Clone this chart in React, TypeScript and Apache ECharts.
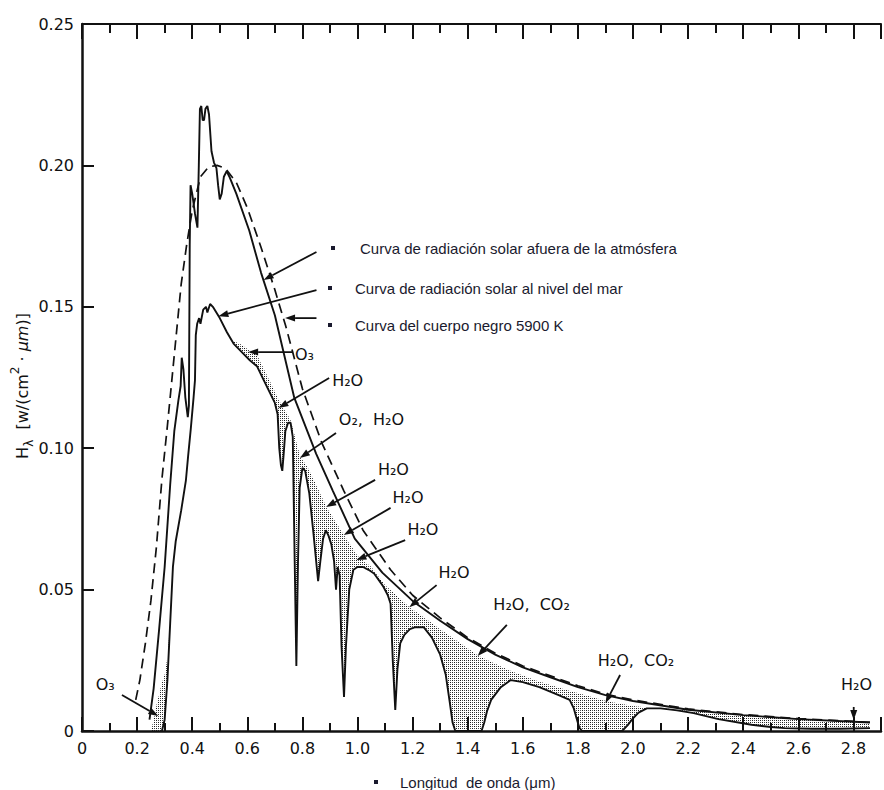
import React, { useEffect, useRef } from "react";
import * as echarts from "echarts";

// ---------- data (x in μm, y in w/(cm²·μm)) ----------
const blackbody5900: [number, number][] = [
  [0.195, 0.011], [0.21, 0.018], [0.23, 0.031], [0.25, 0.046], [0.27, 0.065], [0.29, 0.089],
  [0.31, 0.108], [0.33, 0.128], [0.36, 0.158], [0.38, 0.172], [0.40, 0.184], [0.43, 0.196],
  [0.46, 0.1995], [0.49, 0.2], [0.52, 0.199], [0.56, 0.194], [0.60, 0.185], [0.65, 0.171],
  [0.70, 0.156], [0.74, 0.143], [0.80, 0.121], [0.87, 0.102], [0.95, 0.085], [1.02, 0.071],
  [1.12, 0.057], [1.20, 0.048], [1.30, 0.040], [1.40, 0.033], [1.50, 0.0275], [1.60, 0.023],
  [1.70, 0.0195], [1.80, 0.016], [1.90, 0.013], [2.00, 0.011], [2.20, 0.0078], [2.40, 0.0058],
  [2.60, 0.0044], [2.86, 0.0031],
];

const outsideAtmosphere: [number, number][] = [
  [0.245, 0.004], [0.26, 0.015], [0.28, 0.036], [0.30, 0.058], [0.32, 0.087], [0.335, 0.106],
  [0.35, 0.117], [0.358, 0.122], [0.362, 0.132], [0.368, 0.128], [0.375, 0.118], [0.384, 0.111],
  [0.388, 0.115], [0.391, 0.172], [0.394, 0.193], [0.40, 0.19], [0.41, 0.183], [0.419, 0.178],
  [0.424, 0.2], [0.428, 0.22], [0.433, 0.221], [0.438, 0.216], [0.443, 0.216], [0.448, 0.22],
  [0.455, 0.221], [0.461, 0.218], [0.47, 0.205], [0.479, 0.201], [0.488, 0.199], [0.494, 0.193],
  [0.50, 0.188], [0.507, 0.19], [0.515, 0.196], [0.525, 0.198], [0.535, 0.196], [0.56, 0.19],
  [0.607, 0.177], [0.65, 0.162], [0.70, 0.147], [0.77, 0.118], [0.85, 0.098], [0.91, 0.085],
  [0.99, 0.068], [1.09, 0.056], [1.20, 0.046], [1.30, 0.039], [1.40, 0.0325], [1.50, 0.027],
  [1.60, 0.0225], [1.70, 0.019], [1.80, 0.0155], [1.90, 0.0127], [2.00, 0.0106], [2.20, 0.0075],
  [2.40, 0.0056], [2.60, 0.0042], [2.86, 0.003],
];

const seaLevel: [number, number][] = [
  [0.29, 0], [0.30, 0.004], [0.31, 0.018], [0.32, 0.038], [0.33, 0.058], [0.34, 0.067],
  [0.36, 0.078], [0.377, 0.0885], [0.385, 0.097], [0.395, 0.107], [0.405, 0.118], [0.41, 0.124],
  [0.413, 0.14], [0.418, 0.144], [0.425, 0.146], [0.43, 0.144], [0.44, 0.149], [0.45, 0.15],
  [0.455, 0.148], [0.465, 0.151], [0.475, 0.15], [0.50, 0.146], [0.526, 0.141], [0.55, 0.137],
  [0.58, 0.134], [0.61, 0.131], [0.635, 0.129], [0.66, 0.124], [0.68, 0.12], [0.70, 0.116],
  [0.71, 0.112], [0.716, 0.1], [0.722, 0.094], [0.727, 0.092], [0.732, 0.098], [0.738, 0.106],
  [0.748, 0.109], [0.757, 0.109], [0.765, 0.104], [0.772, 0.06], [0.778, 0.023], [0.784, 0.06],
  [0.79, 0.086], [0.80, 0.093], [0.81, 0.092], [0.825, 0.084], [0.84, 0.07], [0.85, 0.06],
  [0.857, 0.053], [0.865, 0.06], [0.875, 0.068], [0.885, 0.071], [0.895, 0.069], [0.905, 0.066],
  [0.915, 0.06], [0.922, 0.05], [0.928, 0.058], [0.935, 0.055], [0.942, 0.03], [0.951, 0.012],
  [0.958, 0.03], [0.97, 0.05], [0.985, 0.057], [1.00, 0.058], [1.02, 0.058], [1.04, 0.057],
  [1.06, 0.0557], [1.08, 0.053], [1.094, 0.051], [1.11, 0.048], [1.12, 0.045], [1.128, 0.025],
  [1.137, 0.0074], [1.145, 0.022], [1.155, 0.031], [1.17, 0.034], [1.19, 0.036], [1.21, 0.0367],
  [1.24, 0.0367], [1.27, 0.033], [1.30, 0.027], [1.32, 0.02], [1.335, 0.01], [1.345, 0.003],
  [1.355, 0], [1.45, 0], [1.46, 0.003], [1.47, 0.007], [1.485, 0.011], [1.52, 0.0155],
  [1.556, 0.018], [1.60, 0.0173], [1.66, 0.0155], [1.73, 0.0127], [1.77, 0.011], [1.785, 0.008],
  [1.795, 0.0045], [1.805, 0.0012], [1.815, 0], [1.96, 0], [1.98, 0.002], [2.00, 0.0045],
  [2.02, 0.0065], [2.05, 0.008], [2.10, 0.008], [2.16, 0.0073], [2.22, 0.0063], [2.31, 0.0042],
  [2.43, 0.0022], [2.50, 0.0014], [2.55, 0.001], [2.65, 0.0008], [2.75, 0.0008], [2.86, 0.001],
];

// upper edge of the stippled (absorbed) bands
const absorptionUV: [number, number][] = [
  [0.25, 0], [0.26, 0.004], [0.27, 0.009], [0.28, 0.013], [0.29, 0.017], [0.30, 0.02],
  [0.31, 0.026], [0.32, 0.038],
];
const absorptionIR: [number, number][] = [
  [0.55, 0.138], [0.58, 0.1365], [0.61, 0.1345], [0.635, 0.133], [0.66, 0.128], [0.68, 0.124],
  [0.70, 0.12], [0.714, 0.117], [0.757, 0.11], [0.792, 0.097], [0.80, 0.096], [0.82, 0.093],
  [0.85, 0.087], [0.888, 0.079], [0.952, 0.069], [1.0, 0.062], [1.05, 0.058], [1.10, 0.0515],
  [1.19, 0.0437], [1.25, 0.0395], [1.30, 0.036], [1.44, 0.0265], [1.55, 0.0215], [1.65, 0.0178],
  [1.75, 0.0148], [1.905, 0.0105], [2.0, 0.0088], [2.05, 0.0083], [2.10, 0.0081], [2.2, 0.0072],
  [2.4, 0.0054], [2.6, 0.0041], [2.86, 0.0029],
];

const legendTexts = [
  "Curva de radiación solar afuera de la atmósfera",
  "Curva de radiación solar al nivel del mar",
  "Curva del cuerpo negro 5900 K",
];
const xAxisTitle = "Longitud  de onda (μm)";

// annotation labels: text, text anchor, arrow from, arrow tip (data coords)
const notes: { t: string; at: [number, number]; from: [number, number]; to: [number, number] }[] = [
  { t: "O₃", at: [0.773, 0.133], from: [0.766, 0.134], to: [0.603, 0.134] },
  { t: "H₂O", at: [0.908, 0.1241], from: [0.897, 0.1248], to: [0.713, 0.1142] },
  { t: "O₂,  H₂O", at: [0.932, 0.11], from: [0.922, 0.1054], to: [0.791, 0.0965] },
  { t: "H₂O", at: [1.074, 0.0926], from: [1.064, 0.0888], to: [0.886, 0.0792] },
  { t: "H₂O", at: [1.127, 0.0824], from: [1.12, 0.0789], to: [0.95, 0.0693] },
  { t: "H₂O", at: [1.181, 0.0711], from: [1.173, 0.0675], to: [0.996, 0.0605] },
  { t: "H₂O", at: [1.294, 0.0559], from: [1.287, 0.0516], to: [1.188, 0.0438] },
  { t: "H₂O,  CO₂", at: [1.493, 0.0449], from: [1.542, 0.0375], to: [1.436, 0.0265] },
  { t: "H₂O,  CO₂", at: [1.872, 0.0251], from: [1.953, 0.0198], to: [1.9, 0.0099] },
  { t: "H₂O", at: [2.755, 0.0163], from: [2.801, 0.0085], to: [2.801, 0.0039] },
  { t: "O₃", at: [0.05, 0.0166], from: [0.145, 0.0127], to: [0.277, 0.0053] },
];
const legendArrows: { from: [number, number]; to: [number, number] }[] = [
  { from: [0.851, 0.1694], to: [0.659, 0.1595] },
  { from: [0.851, 0.1559], to: [0.495, 0.1467] },
  { from: [0.851, 0.146], to: [0.737, 0.146] },
];

const FONT = "DejaVu Sans";
const INK = "#111";

function makeStipple() {
  const c = document.createElement("canvas");
  c.width = 4;
  c.height = 4;
  const g = c.getContext("2d")!;
  g.fillStyle = "#1a1a1a";
  g.fillRect(0, 0, 1, 1);
  g.fillRect(2, 2, 1, 1);
  g.fillStyle = "rgba(0,0,0,0.7)";
  g.fillRect(2, 0, 1, 1);
  g.fillRect(0, 2, 1, 1);
  return { image: c, repeat: "repeat" } as any;
}

export default function App() {
  const ref = useRef<HTMLDivElement>(null);
  useEffect(() => {
    document.body.style.margin = "0";
    const chart = echarts.init(ref.current!, undefined, { renderer: "svg" });
    const stipple = makeStipple();
    const bands = [
      { top: absorptionUV, lo: 0.25, hi: 0.32 },
      { top: absorptionIR, lo: 0.55, hi: 2.86 },
    ];
    const xFmt = (v: number) => {
      const k = Math.round(v * 10);
      if (Math.abs(v * 10 - k) > 1e-6 || k % 2 !== 0) return "";
      return k === 0 ? "0" : (k / 10).toFixed(1);
    };
    chart.setOption({
      animation: false,
      grid: { left: 82, right: -16, top: 24, bottom: 59, containLabel: false },
      xAxis: [
        {
          type: "value",
          min: 0,
          max: 2.9,
          interval: 0.2,
          position: "bottom",
          splitLine: { show: false },
          axisLine: { show: true, onZero: false, lineStyle: { color: INK, width: 2.5 } },
          axisTick: { show: true, inside: true, length: 14, lineStyle: { color: INK, width: 2 } },
          minorTick: { show: true, splitNumber: 2, length: 8, lineStyle: { color: INK, width: 2 } },
          axisLabel: { formatter: xFmt, margin: 9, fontSize: 16, fontFamily: FONT, color: INK },
        },
        {
          type: "value",
          min: 0,
          max: 2.9,
          interval: 0.2,
          position: "top",
          splitLine: { show: false },
          axisLine: { show: true, onZero: false, lineStyle: { color: INK, width: 2 } },
          axisTick: { show: true, inside: true, length: 15, lineStyle: { color: INK, width: 2 } },
          minorTick: { show: true, splitNumber: 2, length: 9, lineStyle: { color: INK, width: 2 } },
          axisLabel: { show: false },
        },
      ],
      yAxis: {
        type: "value",
        min: 0,
        max: 0.25,
        interval: 0.05,
        splitLine: { show: false },
        axisLine: { show: true, onZero: false, lineStyle: { color: INK, width: 2.5 } },
        axisTick: { show: true, inside: true, length: 12, lineStyle: { color: INK, width: 2 } },
        axisLabel: {
          formatter: (v: number) => (v === 0 ? "0" : v.toFixed(2)),
          margin: 8,
          fontSize: 16,
          fontFamily: FONT,
          color: INK,
        },
      },
      series: [
        {
          type: "custom",
          xAxisIndex: 0,
          yAxisIndex: 0,
          z: 1,
          clip: true,
          data: [[0.3, 0], [1.0, 0]],
          encode: { x: 0, y: 1 },
          renderItem: (params: any, api: any) => {
            const b = bands[params.dataIndex];
            const lower = seaLevel.filter((p) => p[0] >= b.lo && p[0] <= b.hi).slice().reverse();
            const pts = [...b.top, ...lower].map((p) => api.coord(p));
            return { type: "polygon", shape: { points: pts }, style: { fill: stipple, stroke: null } };
          },
        },
        {
          type: "line",
          name: legendTexts[0],
          data: outsideAtmosphere,
          showSymbol: false,
          z: 3,
          lineStyle: { color: INK, width: 1.9 },
        },
        {
          type: "line",
          name: legendTexts[1],
          data: seaLevel,
          showSymbol: false,
          z: 3,
          lineStyle: { color: INK, width: 1.9 },
        },
        {
          type: "line",
          name: legendTexts[2],
          data: blackbody5900,
          showSymbol: false,
          z: 3,
          lineStyle: { color: INK, width: 1.7, type: [10, 6] },
        },
        { type: "line", xAxisIndex: 1, data: [] },
      ],
    });

    const px = (p: [number, number]) => chart.convertToPixel({ seriesIndex: 1 }, p) as number[];
    const graphics: any[] = [];
    const seg = (x1: number, y1: number, x2: number, y2: number, w: number) =>
      graphics.push({ type: "line", z: 9, shape: { x1, y1, x2, y2 }, style: { stroke: INK, lineWidth: w } });

    const arrow = (from: [number, number], to: [number, number]) => {
      const a = px(from);
      const b = px(to);
      const dx = b[0] - a[0];
      const dy = b[1] - a[1];
      const len = Math.hypot(dx, dy) || 1;
      const ux = dx / len;
      const uy = dy / len;
      const L = 10;
      const W = 3.5;
      const bx = b[0] - ux * L;
      const by = b[1] - uy * L;
      seg(a[0], a[1], bx, by, 1.8);
      graphics.push({
        type: "polygon",
        z: 10,
        shape: {
          points: [
            [b[0], b[1]],
            [bx - uy * W, by + ux * W],
            [bx + uy * W, by - ux * W],
          ],
        },
        style: { fill: INK },
      });
    };
    notes.forEach((n) => {
      arrow(n.from, n.to);
      const p = px(n.at);
      graphics.push({
        type: "text",
        z: 10,
        x: p[0],
        y: p[1],
        style: { text: n.t, fontSize: 16, fontFamily: FONT, fill: INK, align: "left", verticalAlign: "middle" },
      });
    });
    legendArrows.forEach((a) => arrow(a.from, a.to));

    const legendPos = [
      [333, 360, 248],
      [330, 355, 288],
      [330, 355, 325],
    ];
    legendTexts.forEach((t, i) => {
      const [bxp, tx, ty] = legendPos[i];
      graphics.push({ type: "rect", z: 10, shape: { x: bxp - 2, y: ty - 2, width: 4, height: 4 }, style: { fill: "#1a1a2e" } });
      graphics.push({
        type: "text",
        z: 10,
        x: tx,
        y: ty,
        style: { text: t, fontSize: 15, fontFamily: "Liberation Sans", fill: "#1a1a2e", align: "left", verticalAlign: "middle" },
      });
    });
    graphics.push({ type: "rect", z: 10, shape: { x: 374, y: 780, width: 4, height: 4 }, style: { fill: "#1a1a2e" } });
    graphics.push({
      type: "text",
      z: 10,
      x: 400,
      y: 782,
      style: { text: xAxisTitle, fontSize: 15, fontFamily: "Liberation Sans", fill: "#1a1a2e", align: "left", verticalAlign: "middle" },
    });
    graphics.push({
      type: "text",
      z: 10,
      x: 22,
      y: 386,
      rotation: Math.PI / 2,
      style: {
        text: "{n|H}{s|λ}{n|  [w/(cm}{p|2}{n| · }{i|μm}{n|)]}",
        align: "center",
        verticalAlign: "middle",
        fill: INK,
        rich: {
          n: { fontSize: 16, fontFamily: FONT, lineHeight: 26, fill: INK },
          s: { fontSize: 12, fontFamily: FONT, lineHeight: 12, verticalAlign: "bottom", fill: INK },
          p: { fontSize: 12, fontFamily: FONT, lineHeight: 12, verticalAlign: "top", fill: INK },
          i: { fontSize: 16, fontFamily: FONT, fontStyle: "italic", lineHeight: 26, fill: INK },
        },
      },
    });
    chart.setOption({ graphic: graphics });

    return () => chart.dispose();
  }, []);
  return <div ref={ref} style={{ width: 884, height: 790, overflow: "hidden", background: "#fff" }} />;
}
